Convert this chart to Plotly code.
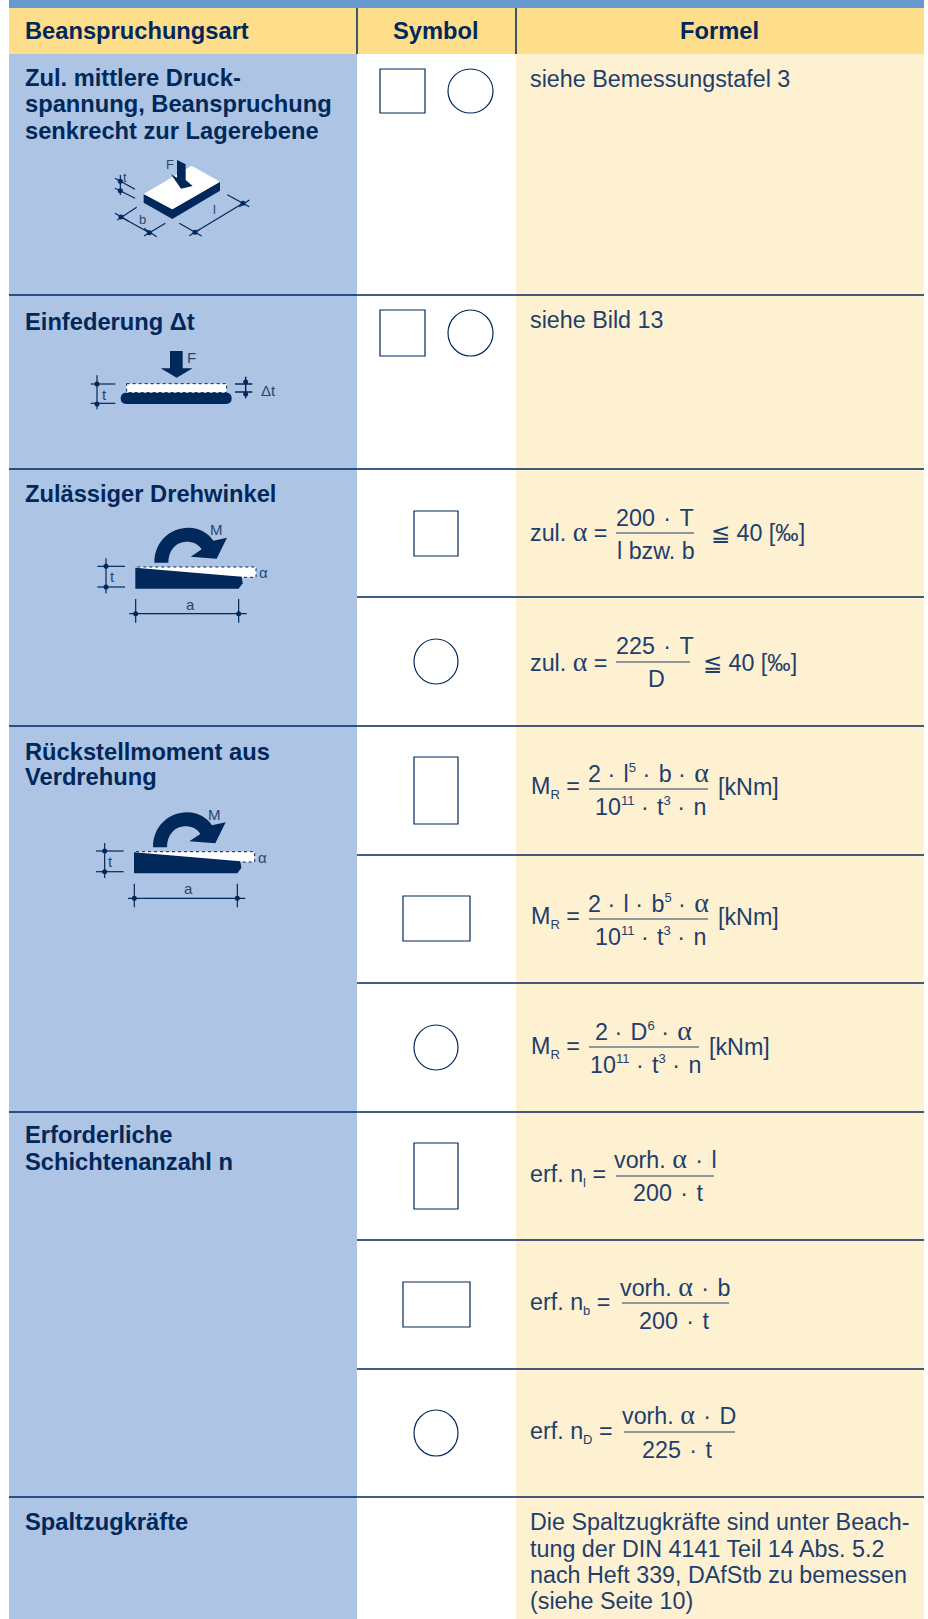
import plotly.graph_objects as go


def sup(s):
    return f'<sup><span style="font-size:80%">{s}</span></sup>'


def sub(s):
    return f'<sub><span style="font-size:80%">{s}</span></sub>'


# ---------- content ----------
HEADERS = ["Beanspruchungsart", "Symbol", "Formel"]
ROW_LABELS = [
    ["Zul. mittlere Druck-", "spannung, Beanspruchung", "senkrecht zur Lagerebene"],
    ["Einfederung Δt"],
    ["Zulässiger Drehwinkel"],
    ["Rückstellmoment aus", "Verdrehung"],
    ["Erforderliche", "Schichtenanzahl n"],
    ["Spaltzugkräfte"],
]
PLAIN_FORMULAS = ["siehe Bemessungstafel 3", "siehe Bild 13"]
A = '<span style="font-family:Liberation Serif;font-size:120%">α</span>'
D = "\u200a · \u200a"
E = " · \u200a"
DEN_M = "10" + sup("11") + E + "t" + sup("3") + E + "n"
FRACTIONS = [
    ("zul. " + A + " =", "200" + D + "T", "l bzw. b", "≦ 40 [‰]"),
    ("zul. " + A + " =", "225" + D + "T", "D", "≦ 40 [‰]"),
    ("M" + sub("R") + " =", "2" + E + "l" + sup("5") + E + "b" + E + A, DEN_M, "[kNm]"),
    ("M" + sub("R") + " =", "2" + E + "l" + E + "b" + sup("5") + E + A, DEN_M, "[kNm]"),
    ("M" + sub("R") + " =", "2" + E + "D" + sup("6") + E + A, DEN_M, "[kNm]"),
    ("erf. n" + sub("l") + " =", "vorh. " + A + D + "l", "200" + D + "t", ""),
    ("erf. n" + sub("b") + " =", "vorh. " + A + D + "b", "200" + D + "t", ""),
    ("erf. n" + sub("D") + " =", "vorh. " + A + D + "D", "225" + D + "t", ""),
]
NOTE_LINES = [
    "Die Spaltzugkräfte sind unter Beach-",
    "tung der DIN 4141 Teil 14 Abs. 5.2",
    "nach Heft 339, DAfStb zu bemessen",
    "(siehe Seite 10)",
]

# ---------- layout ----------
W, H = 928, 1619
X0, X1, X2, X3 = 9, 357, 516, 924
NAVY, BODY = "#00285A", "#1F3E6B"
LABEL_Y = [[77.7, 104.2, 130.7], [321.7], [493.7], [751.7, 777.2], [1135.2, 1161.7], [1521.7]]
FULL_LINES = [295, 469, 726, 1112, 1497]
SUB_LINES = [597, 855, 983, 1240, 1369]
# x-left of lhs, lhs y, tail y, num cx, num y, bar x0, bar x1, bar y, den cx, den y, tail x
FRAC_POS = [
    (529, 531, 533, 655, 518, 616, 694, 533, 656, 551, 710),
    (529, 661, 663, 655, 646, 616, 690, 662, 656, 679, 702),
    (530, 787, 787, 648, 772, 589, 708, 789, 650, 806, 717),
    (530, 917, 917, 648, 902, 589, 708, 919, 650, 936, 717),
    (530, 1047, 1047, 643, 1030, 589, 699, 1047, 645.5, 1064, 708),
    (529, 1175, 0, 665, 1158.5, 616, 714, 1176, 668, 1193, 0),
    (529, 1303, 0, 675, 1286, 622, 729, 1303, 674, 1321, 0),
    (529, 1432, 0, 679, 1414, 624, 735, 1432, 677, 1450, 0),
]
BODY_SIZE = 23.3
BOLD_SIZE = 23.7

shapes, ann = [], []
dots_x, dots_y = [], []


def rect(x0, y0, x1, y1, fill, line=None, lw=0, dash=None):
    shapes.append(dict(type="rect", x0=x0, y0=y0, x1=x1, y1=y1, fillcolor=fill, layer="below",
                       line=dict(color=line or fill, width=lw, dash=dash or "solid")))


def line(x0, y0, x1, y1, w=1.5, c=NAVY):
    shapes.append(dict(type="line", x0=x0, y0=y0, x1=x1, y1=y1, layer="below",
                       line=dict(color=c, width=w)))


def poly(pts, fill):
    shapes.append(dict(type="path", path="M" + " L".join(f"{x},{y}" for x, y in pts) + " Z",
                       fillcolor=fill, line=dict(width=0), layer="below"))


def text(x, y, s, size=BODY_SIZE, color=BODY, anchor="left", bold=False):
    ann.append(dict(x=x, y=y, xref="x", yref="y", text=f"<b>{s}</b>" if bold else s,
                    showarrow=False, xanchor=anchor, yanchor="middle", borderpad=0,
                    font=dict(family="Liberation Sans", size=size, color=color)))


# backgrounds
rect(X0, 0, X3, 8, "#6699CE")
rect(X0, 8, X3, 54, "#FEDD8B")
rect(X0, 54, X1, H, "#ADC4E4")
rect(X2, 54, X3, H, "#FDF1D2")
line(X1, 8, X1, 54)
line(X2, 8, X2, 54)
for y in FULL_LINES:
    line(X0, y, X3, y)
for y in SUB_LINES:
    line(X1, y, X3, y)


# illustrations
def z1(p):
    return [(x / 3, y / 3) for x, y in p]


def z2(p, dx=0, dy=290):
    return [(x / 3 + dx, y / 3 + dy) for x, y in p]


def seg(a, b, conv, w=1.2):
    (x0, y0), (x1, y1) = conv([a, b])
    line(x0, y0, x1, y1, w)


def dots(p, conv):
    for x, y in conv(p):
        dots_x.append(x)
        dots_y.append(y)


# pad
poly(z1([(431, 582), (517, 628), (660, 545), (660, 572), (517, 657), (431, 608)]), NAVY)
poly(z1([(431, 582), (575, 497), (660, 545), (517, 628)]), "#FFFFFF")
poly(z1([(531, 480), (557, 493), (557, 540), (578, 558), (543, 566), (513, 523), (531, 533)]), NAVY)
for a, b in [((345, 535), (405, 568)), ((345, 565), (405, 595)), ((361, 525), (361, 585)),
             ((363, 651), (448, 698)), ((345, 640), (385, 663)), ((352, 660), (410, 622)),
             ((432, 708), (496, 670)), ((432, 685), (470, 710)), ((585, 697), (729, 610)),
             ((538, 670), (605, 708)), ((568, 707), (600, 688)), ((682, 584), (748, 620)),
             ((718, 620), (748, 600))]:
    seg(a, b, z1)
dots([(361, 544), (361, 572), (363, 651), (448, 698), (585, 697), (729, 610)], z1)
for x, y, s in [(509, 494, "F"), (376, 533, "t"), (426, 659, "b"), (642, 628, "l")]:
    text(x / 3, y / 3, s, 13, "#27476F", "center")

# deflection
poly(z2([(510, 183), (548, 183), (548, 235), (578, 235), (530, 263), (482, 235), (510, 235)]), NAVY)
(dx0, dy0), (dx1, dy1) = z2([(380, 281), (680, 308)])
rect(dx0, dy0, dx1, dy1, "#FFFFFF", NAVY, 1, "dot")
(bx0, by0), (bx1, by1) = z2([(362, 308), (695, 342)])
r = (by1 - by0) / 2
shapes.append(dict(type="path", fillcolor=NAVY, line=dict(width=0), layer="below",
                   path=f"M{bx0 + r},{by0} L{bx1 - r},{by0} Q{bx1},{by0} {bx1},{by0 + r} "
                        f"Q{bx1},{by1} {bx1 - r},{by1} L{bx0 + r},{by1} Q{bx0},{by1} {bx0},{by0 + r} "
                        f"Q{bx0},{by0} {bx0 + r},{by0} Z"))
for a, b in [((272, 282), (346, 282)), ((272, 340), (346, 340)), ((291, 256), (291, 358))]:
    seg(a, b, z2)
for a, b in [((705, 282), (757, 282)), ((705, 306), (757, 306)), ((737, 260), (737, 325))]:
    seg(a, b, z2, 1.5)
dots([(291, 282), (291, 342), (737, 276), (737, 312)], z2)
for x, y, s, sz in [(574, 202, "F", 15), (312, 312, "t", 15), (805, 300, "Δt", 15)]:
    tx, ty = z2([(x, y)])[0]
    text(tx, ty, s, sz, "#27476F", "center")


# rotation (drawn twice)
def rotation(dx, dy):
    conv = lambda p: z2(p, dx, dy)
    pts = conv([(463, 818), (463, 755), (510, 713), (565, 713), (600, 713), (625, 730), (640, 752),
                (681, 743), (650, 806), (572, 800), (605, 778), (595, 762), (580, 755), (558, 755),
                (530, 755), (505, 780), (505, 818)])
    f = lambda p: f"{p[0]},{p[1]}"
    shapes.append(dict(type="path", fillcolor=NAVY, line=dict(width=0), layer="below",
                       path=f"M{f(pts[0])} C{f(pts[1])} {f(pts[2])} {f(pts[3])} C{f(pts[4])} {f(pts[5])} {f(pts[6])} "
                            f"L{f(pts[7])} L{f(pts[8])} L{f(pts[9])} L{f(pts[10])} "
                            f"C{f(pts[11])} {f(pts[12])} {f(pts[13])} C{f(pts[14])} {f(pts[15])} {f(pts[16])} Z"))
    (x0, y0), (x1, y1) = conv([(412, 831), (768, 862)])
    rect(x0, y0, x1, y1, "#FFFFFF", NAVY, 1, "dot")
    poly(conv([(406, 833), (725, 860), (728, 880), (716, 896), (406, 896)]), NAVY)
    for a, b in [((292, 829), (375, 829)), ((292, 891), (375, 891)), ((318, 805), (318, 910)),
                 ((388, 971), (740, 971)), ((407, 927), (407, 998)), ((716, 927), (716, 998))]:
        seg(a, b, conv)
    dots([(318, 829), (318, 891), (407, 971), (716, 971)], conv)
    for x, y, s in [(648, 718, "M"), (790, 847, "α"), (336, 860, "t"), (570, 942, "a")]:
        tx, ty = conv([(x, y)])[0]
        text(tx, ty, s, 15, "#27476F", "center")


rotation(0, 290)
rotation(-4 / 3, 290 + 284.7)

# symbols
SQ = [(380, 69, 425, 113), (380, 310, 425, 356), (414, 511, 458, 556),
      (414, 757, 458, 824), (403, 896, 470, 941), (414, 1143, 458, 1209), (403, 1282, 470, 1327)]
CI = [(448, 69, 493, 113), (448, 310, 493, 356), (414, 639, 458, 684),
      (414, 1025, 458, 1070), (414, 1410, 458, 1456)]
for b in SQ:
    rect(b[0], b[1], b[2], b[3], "#FFFFFF", NAVY, 1.2)
for b in CI:
    shapes.append(dict(type="circle", x0=b[0], y0=b[1], x1=b[2], y1=b[3], fillcolor="#FFFFFF",
                       layer="below", line=dict(color=NAVY, width=1.2)))

# text
for s, x, anc in zip(HEADERS, [23.5, 436, 719.5], ["left", "center", "center"]):
    text(x, 30.5, s, BOLD_SIZE, NAVY, anc, True)
for lines, ys in zip(ROW_LABELS, LABEL_Y):
    for s, y in zip(lines, ys):
        text(23.5, y, s, BOLD_SIZE, NAVY, "left", True)
for s, y in zip(PLAIN_FORMULAS, [78.5, 320]):
    text(529, y, s)
for (lhs, num, den, tail), p in zip(FRACTIONS, FRAC_POS):
    text(p[0], p[1], lhs)
    text(p[3], p[4], num, anchor="center")
    line(p[5], p[7], p[6], p[7], 1.2, BODY)
    text(p[8], p[9], den, anchor="center")
    if tail:
        text(p[10], p[2], tail)
for s, y in zip(NOTE_LINES, [1522, 1548.5, 1575, 1601]):
    text(529, y, s)

fig = go.Figure(go.Scatter(x=dots_x, y=dots_y, mode="markers", hoverinfo="skip",
                           marker=dict(color=NAVY, size=5)))
fig.update_layout(
    width=W, height=H, margin=dict(l=0, r=0, t=0, b=0), showlegend=False,
    paper_bgcolor="#FFFFFF", plot_bgcolor="#FFFFFF", shapes=shapes, annotations=ann,
    xaxis=dict(range=[0, W], visible=False, fixedrange=True),
    yaxis=dict(range=[H, 0], visible=False, fixedrange=True),
)
fig.write_html("out.html", config={"displayModeBar": False},
               post_script="document.body.style.margin='0';document.body.style.overflow='hidden';")
